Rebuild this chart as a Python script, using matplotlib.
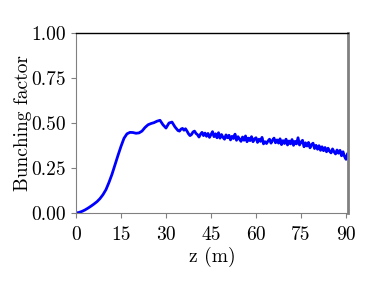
import matplotlib
matplotlib.use('Agg')
from matplotlib import pyplot as plt
import numpy as np

# smooth growth region, 1 m steps
z_smooth = list(range(0, 34))
b_smooth = [0.0, 0.003, 0.009, 0.017, 0.027, 0.038, 0.050, 0.063, 0.080, 0.102,
            0.130, 0.170, 0.215, 0.268, 0.320, 0.370, 0.415, 0.440, 0.448, 0.447,
            0.443, 0.445, 0.455, 0.475, 0.490, 0.497, 0.502, 0.510, 0.515, 0.490,
            0.472, 0.500, 0.505, 0.478]

# saturation region, 0.5 m steps from 33.5 m
z_sat = [33.5 + 0.5 * i for i in range(116)]
b_sat = [0.468, 0.458, 0.455, 0.466, 0.470, 0.460, 0.468, 0.455, 0.440, 0.430,
         0.436, 0.450, 0.455, 0.442, 0.435, 0.422, 0.438, 0.448, 0.430, 0.444,
         0.426, 0.442, 0.420, 0.436, 0.452, 0.424, 0.440, 0.418, 0.446, 0.416,
         0.436, 0.420, 0.410, 0.434, 0.418, 0.432, 0.406, 0.426, 0.414, 0.438,
         0.404, 0.424, 0.410, 0.398, 0.422, 0.404, 0.428, 0.396, 0.416, 0.402,
         0.424, 0.396, 0.412, 0.418, 0.392, 0.410, 0.398, 0.420, 0.384, 0.396,
         0.386, 0.400, 0.410, 0.388, 0.404, 0.416, 0.390, 0.406, 0.388, 0.412,
         0.380, 0.402, 0.386, 0.410, 0.378, 0.400, 0.384, 0.408, 0.376, 0.398,
         0.384, 0.418, 0.378, 0.394, 0.404, 0.368, 0.390, 0.372, 0.392, 0.362,
         0.380, 0.388, 0.358, 0.376, 0.354, 0.374, 0.348, 0.368, 0.346, 0.364,
         0.340, 0.360, 0.344, 0.334, 0.356, 0.340, 0.328, 0.350, 0.332, 0.348,
         0.318, 0.340, 0.314, 0.298, 0.330, 0.300]

z = np.array(z_smooth + z_sat)
bunching = np.array(b_smooth + b_sat)

x_ticks = [0, 15, 30, 45, 60, 75, 90]
y_ticks = [0.0, 0.25, 0.5, 0.75, 1.0]

plt.rcParams['font.family'] = ['cmr10', 'DejaVu Serif']
plt.rcParams['axes.formatter.use_mathtext'] = True
plt.rcParams['font.size'] = 14

fig = plt.figure(figsize=(3.78, 3.0), dpi=100)
ax = fig.add_axes([0.201, 0.29, 0.72, 0.60])

ax.plot(z, bunching, color='blue', lw=2)

ax.set_xlim(0, 90.7)
ax.set_ylim(0, 1)
ax.set_xticks(x_ticks)
ax.set_xticklabels([str(t) for t in x_ticks])
ax.set_yticks(y_ticks)
ax.set_yticklabels(['%.2f' % t for t in y_ticks])
ax.set_xlabel('z (m)', labelpad=2)
ax.set_ylabel('Bunching factor', labelpad=0)

for side in ['left', 'bottom']:
  ax.spines[side].set_color('gray')
  ax.spines[side].set_linewidth(0.8)
ax.spines['right'].set_color('gray')
ax.spines['right'].set_linewidth(2)
ax.spines['top'].set_color('black')
ax.spines['top'].set_linewidth(1)
ax.tick_params(color='gray', length=3.5, width=0.8, direction='out')
ax.tick_params(axis='x', pad=6)

fig.savefig('out.png', dpi=100)
plt.close(fig)
